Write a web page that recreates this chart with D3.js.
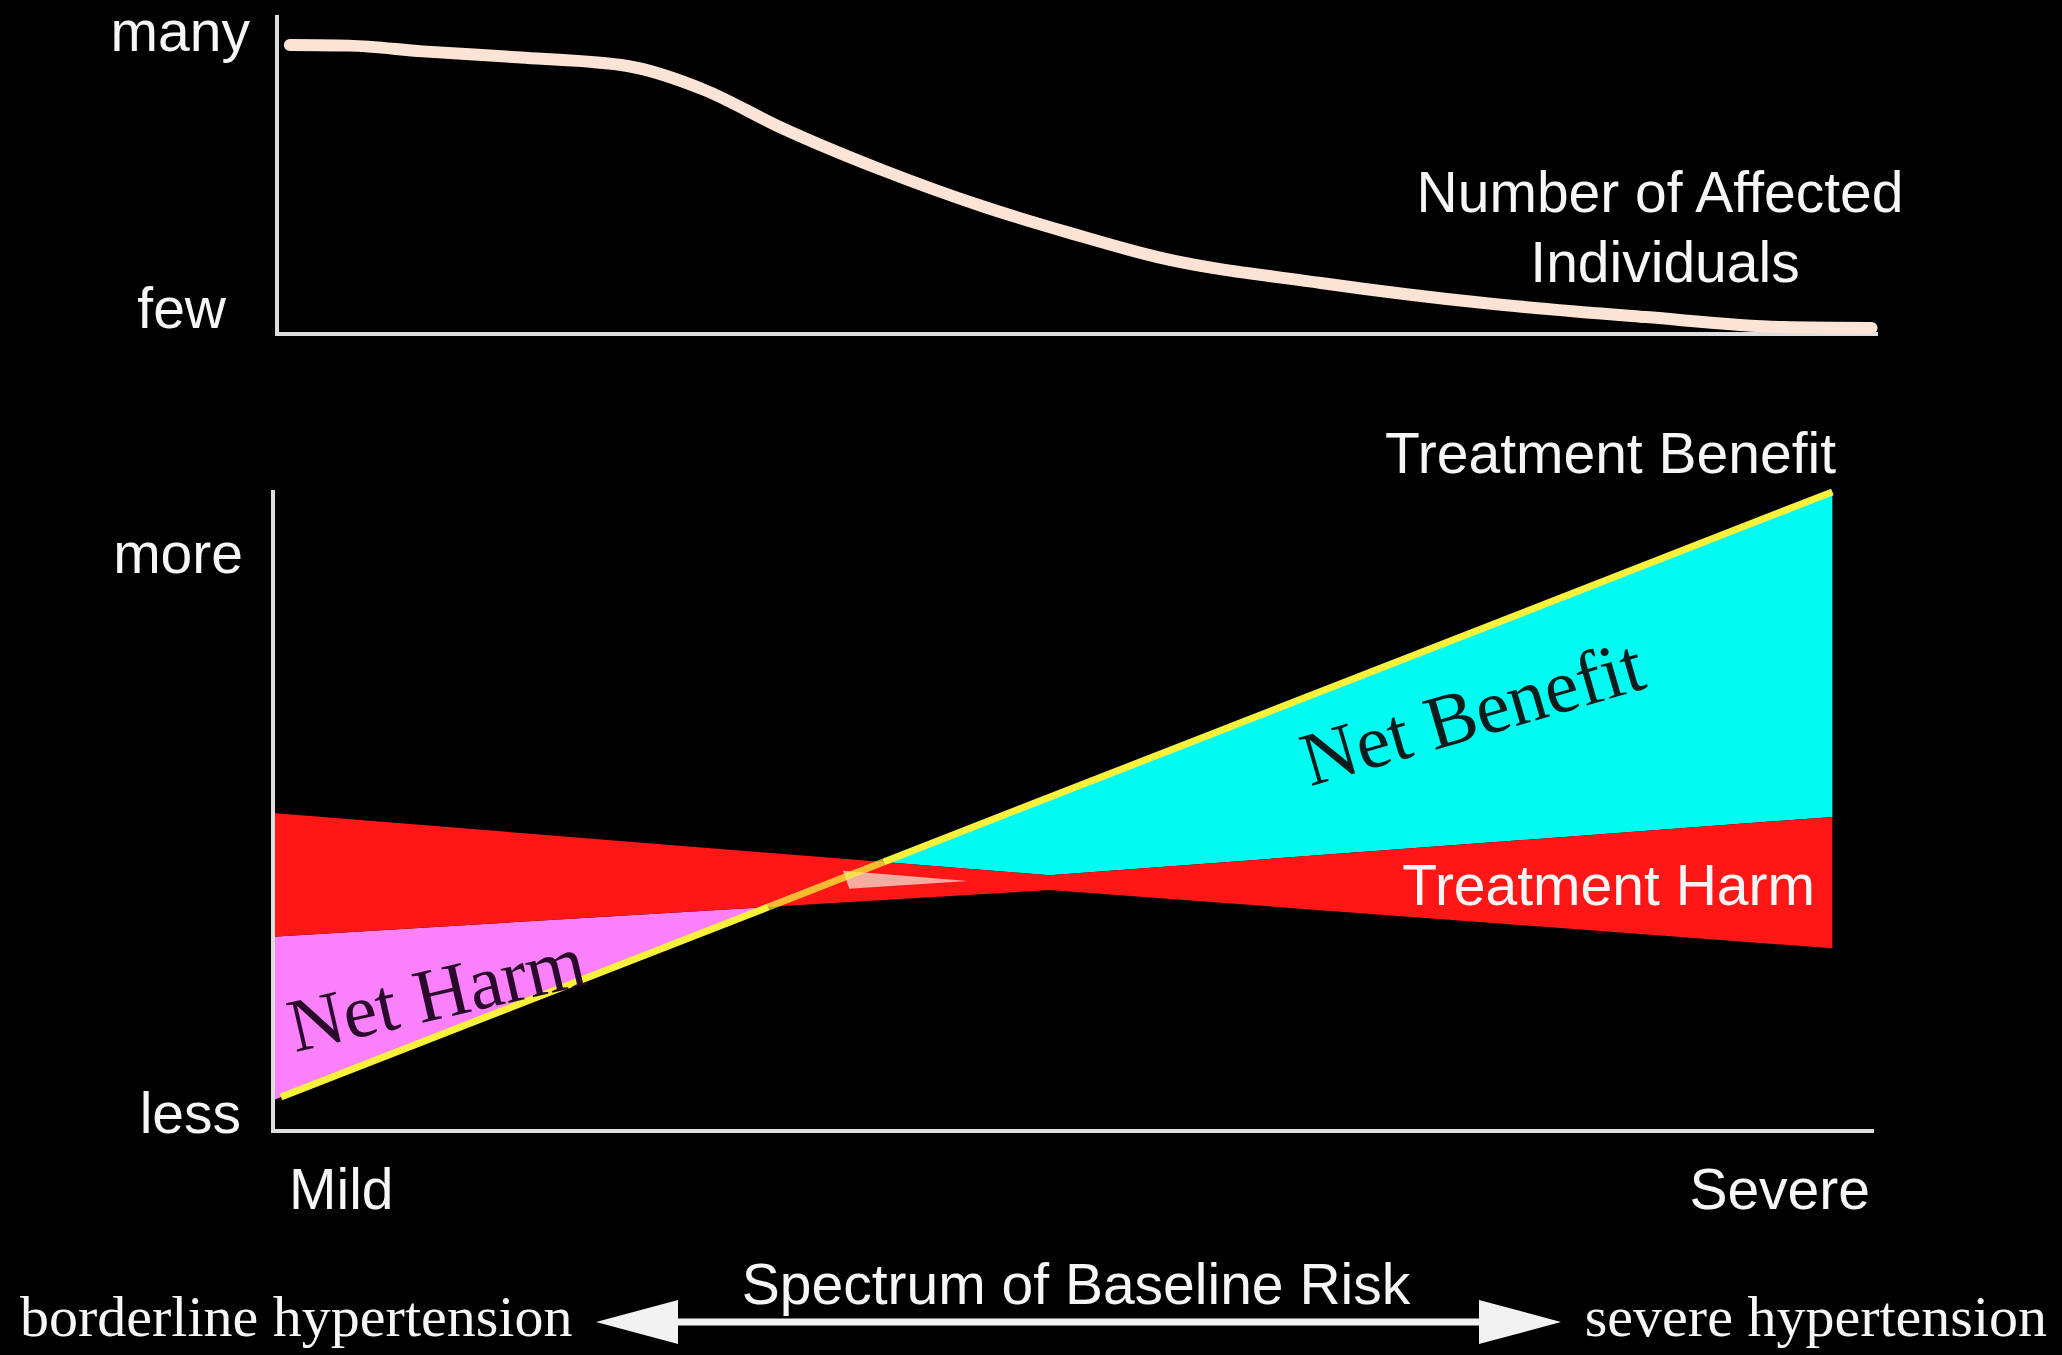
<!DOCTYPE html>
<html>
<head>
<meta charset="utf-8">
<script src="https://cdn.jsdelivr.net/npm/d3@7"></script>
<style>
  html, body { margin: 0; padding: 0; background: #000; }
  svg { display: block; }
</style>
</head>
<body>
<svg id="chart" width="2062" height="1355"></svg>
<script>
// ---------------- DATA ----------------
// Top panel: number of affected individuals across baseline risk (0 = mild, 100 = severe)
const affectedX = [0.8, 4.5, 9.1, 15.5, 21.9, 26.7, 31.4, 37.8, 44.2, 49.5, 55.0, 65.2, 75.4, 85.5, 94.0, 99.6];
const affectedY = [90.6, 90.4, 88.6, 86.6, 84.0, 76.5, 64.9, 51.4, 39.8, 31.7, 24.1, 16.0, 9.7, 5.3, 2.2, 1.9];

// Bottom panel: treatment benefit (straight line) and treatment harm band
const benefitX = [0.5, 97.4];
const benefitY = [5.3, 99.7];
const harmX = [0, 48.5, 97.4];
const harmUpper = [49.6, 39.9, 49.0];
const harmLower = [30.3, 37.6, 28.5];
// pale overlap patch near where the lines cross
const patchX = [35.6, 43.4, 36.0];
const patchY = [40.6, 39.0, 37.8];

// axis tick labels
const topTicks = [{label: "many", v: 88.6, dx: 250}, {label: "few", v: 1.9, dx: 226}];
const bottomTicks = [{label: "more", v: 87.0, dx: 243}, {label: "less", v: -0.3, dx: 241}];
const xTicks = [{label: "Mild", v: 1.0, anchor: "start"}, {label: "Severe", v: 99.75, anchor: "end"}];

// ---------------- LAYOUT ----------------
const svg = d3.select("#chart");
svg.append("rect").attr("width", 2062).attr("height", 1355).attr("fill", "#000");

const SANS = "'Liberation Sans', Arial, Helvetica, sans-serif";
const SERIF = "'Liberation Serif', 'Times New Roman', serif";
const TXT = "#f6f6f6";
const AXIS = "#dedede";

const xTop = d3.scaleLinear().domain([0, 100]).range([277, 1878]);
const yTop = d3.scaleLinear().domain([0, 100]).range([334, 15]);
const xBot = d3.scaleLinear().domain([0, 100]).range([273, 1874]);
const yBot = d3.scaleLinear().domain([0, 100]).range([1131, 490]);

// ---------------- TOP PANEL ----------------
const gTop = svg.append("g");
gTop.append("line").attr("x1", xTop(0)).attr("x2", xTop(0)).attr("y1", yTop(100)).attr("y2", yTop(0))
  .attr("stroke", AXIS).attr("stroke-width", 4);
gTop.append("line").attr("x1", xTop(0) - 2).attr("x2", xTop(100)).attr("y1", yTop(0)).attr("y2", yTop(0))
  .attr("stroke", AXIS).attr("stroke-width", 4);

const affected = affectedX.map((x, i) => [x, affectedY[i]]);
gTop.append("path")
  .attr("d", d3.line().x(d => xTop(d[0])).y(d => yTop(d[1])).curve(d3.curveMonotoneX)(affected))
  .attr("fill", "none").attr("stroke", "#fbe4d6").attr("stroke-width", 12)
  .attr("stroke-linecap", "round").attr("stroke-linejoin", "round");

gTop.selectAll("text.tick").data(topTicks).join("text")
  .attr("x", d => d.dx).attr("y", d => yTop(d.v))
  .attr("text-anchor", "end").attr("font-family", SANS).attr("font-size", 57)
  .attr("fill", TXT).text(d => d.label);

gTop.append("text").attr("x", 1660).attr("y", 212).attr("text-anchor", "middle")
  .attr("font-family", SANS).attr("font-size", 57).attr("fill", TXT).text("Number of Affected");
gTop.append("text").attr("x", 1665).attr("y", 282).attr("text-anchor", "middle")
  .attr("font-family", SANS).attr("font-size", 57).attr("fill", TXT).text("Individuals");

// ---------------- BOTTOM PANEL ----------------
const gBot = svg.append("g");
const interp = (xs, ys) => d3.scaleLinear().domain(xs).range(ys).clamp(false);
const benefit = interp(benefitX, benefitY);
const hiF = interp(harmX, harmUpper);
const loF = interp(harmX, harmLower);

function cross(f, g, a, b) {
  for (let i = 0; i < 60; i++) {
    const m = (a + b) / 2;
    if ((f(a) - g(a)) * (f(m) - g(m)) <= 0) b = m; else a = m;
  }
  return (a + b) / 2;
}
const xLoCross = cross(benefit, loF, 0, harmX[1]);
const xHiCross = cross(benefit, hiF, 0, harmX[1]);

const pt = (x, y) => [xBot(x), yBot(y)];
const poly = pts => "M" + pts.map(p => p.join(",")).join("L") + "Z";

// Net harm (pink): between harm lower edge and benefit line, left of crossing
const pinkPts = [pt(0, loF(0)), pt(xLoCross, loF(xLoCross)), pt(0, benefit(0))];
gBot.append("path").attr("d", poly(pinkPts)).attr("fill", "#fb80fb");

// Net benefit (cyan): between benefit line and harm upper edge, right of crossing
const xEnd = benefitX[1];
const cyanPts = [pt(xHiCross, hiF(xHiCross)), pt(xEnd, benefit(xEnd)), pt(xEnd, hiF(xEnd)), pt(harmX[1], hiF(harmX[1]))];
gBot.append("path").attr("d", poly(cyanPts)).attr("fill", "#02fbf0");

// Treatment harm band (red bow-tie)
const redPts = harmX.map((x, i) => pt(x, harmUpper[i]))
  .concat(harmX.slice().reverse().map((x, i) => pt(x, harmLower[harmX.length - 1 - i])));
gBot.append("path").attr("d", poly(redPts)).attr("fill", "#ff1616");

// pale patch where the lines overlap
gBot.append("path").attr("d", poly(patchX.map((x, i) => pt(x, patchY[i]))))
  .attr("fill", "#f2cfc6").attr("opacity", 0.8);

// benefit line (yellow): solid outside the red band, faded inside it
const lineGen = d3.line().x(d => xBot(d)).y(d => yBot(benefit(d)));
gBot.append("path").attr("d", lineGen([benefitX[0], xLoCross])).attr("stroke", "#f8f23c")
  .attr("stroke-width", 7).attr("fill", "none");
gBot.append("path").attr("d", lineGen([xLoCross, xHiCross])).attr("stroke", "#f8f23c")
  .attr("stroke-width", 7).attr("fill", "none").attr("opacity", 0.75);
gBot.append("path").attr("d", lineGen([xHiCross, benefitX[1]])).attr("stroke", "#f8f23c")
  .attr("stroke-width", 7).attr("fill", "none");

// axes
gBot.append("line").attr("x1", xBot(0)).attr("x2", xBot(0)).attr("y1", yBot(100)).attr("y2", yBot(0))
  .attr("stroke", AXIS).attr("stroke-width", 4);
gBot.append("line").attr("x1", xBot(0) - 2).attr("x2", xBot(100)).attr("y1", yBot(0)).attr("y2", yBot(0))
  .attr("stroke", AXIS).attr("stroke-width", 4);

gBot.selectAll("text.tick").data(bottomTicks).join("text")
  .attr("x", d => d.dx).attr("y", d => yBot(d.v))
  .attr("text-anchor", "end").attr("font-family", SANS).attr("font-size", 57)
  .attr("fill", TXT).text(d => d.label);

gBot.selectAll("text.xtick").data(xTicks).join("text")
  .attr("x", d => xBot(d.v)).attr("y", 1209)
  .attr("text-anchor", d => d.anchor).attr("font-family", SANS).attr("font-size", 57)
  .attr("fill", TXT).text(d => d.label);

gBot.append("text").attr("x", 1836).attr("y", 473).attr("text-anchor", "end")
  .attr("font-family", SANS).attr("font-size", 57).attr("fill", TXT).text("Treatment Benefit");
gBot.append("text").attr("x", 1815).attr("y", 905).attr("text-anchor", "end")
  .attr("font-family", SANS).attr("font-size", 57).attr("fill", TXT).text("Treatment Harm");

gBot.append("text").attr("transform", "translate(437,996) rotate(-13)")
  .attr("text-anchor", "middle").attr("dy", "0.3em")
  .attr("font-family", SERIF).attr("font-size", 76).attr("fill", "#2a0a2a").text("Net Harm");
gBot.append("text").attr("transform", "translate(1473,715) rotate(-16.3)")
  .attr("text-anchor", "middle").attr("dy", "0.3em")
  .attr("font-family", SERIF).attr("font-size", 76).attr("fill", "#0a1c1c").text("Net Benefit");

// ---------------- BOTTOM ARROW ----------------
const gArr = svg.append("g");
const ay = 1322;
gArr.append("line").attr("x1", 670).attr("x2", 1487).attr("y1", ay).attr("y2", ay)
  .attr("stroke", "#f2f2f2").attr("stroke-width", 7);
gArr.append("path").attr("d", `M596,${ay}L678,${ay - 22}L678,${ay + 22}Z`).attr("fill", "#f2f2f2");
gArr.append("path").attr("d", `M1561,${ay}L1479,${ay - 22}L1479,${ay + 22}Z`).attr("fill", "#f2f2f2");

gArr.append("text").attr("x", 1076).attr("y", 1304).attr("text-anchor", "middle")
  .attr("font-family", SANS).attr("font-size", 57).attr("fill", TXT).text("Spectrum of Baseline Risk");
gArr.append("text").attr("x", 20).attr("y", 1336).attr("text-anchor", "start")
  .attr("font-family", SERIF).attr("font-size", 58).attr("fill", TXT).text("borderline hypertension");
gArr.append("text").attr("x", 2047).attr("y", 1336).attr("text-anchor", "end")
  .attr("font-family", SERIF).attr("font-size", 58).attr("fill", TXT).text("severe hypertension");
</script>
</body>
</html>
